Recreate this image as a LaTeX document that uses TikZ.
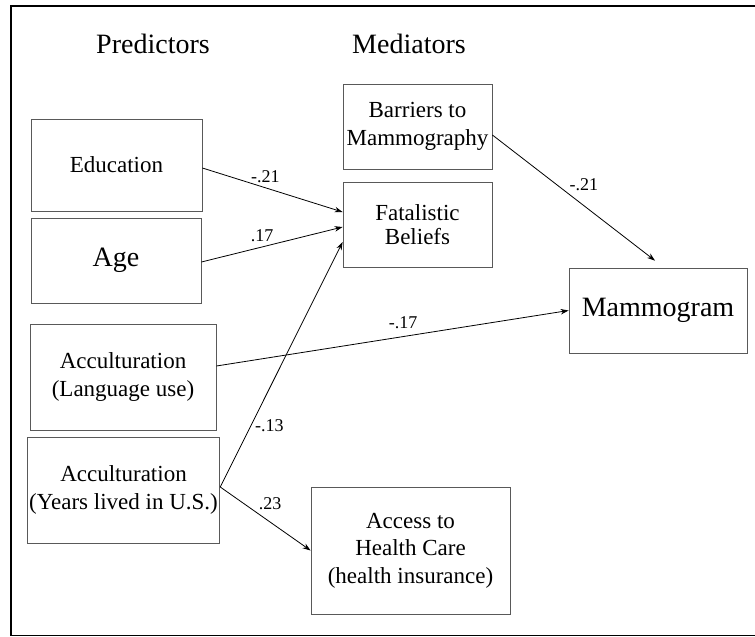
\documentclass[tikz,border=0pt]{standalone}
\usepackage{fontspec}
\setmainfont{Liberation Serif}
\usetikzlibrary{arrows.meta,calc}

\tikzset{
  varbox/.style={draw=black!65, line width=0.8pt, align=center, inner sep=2pt,
    font=\fontsize{23}{27.6}\selectfont},
  path/.style={line width=0.8pt, -{Stealth[length=8pt,width=5.5pt]}},
  coef/.style={font=\fontsize{18}{20}\selectfont, inner sep=2pt}
}

\begin{document}
\begin{tikzpicture}[x=1pt, y=-1pt]

  \useasboundingbox (0,0) rectangle (755,637);
  % outer frame (right side runs off the page)
  \draw[line width=1.6pt] (765,6) -- (11,6) -- (11,635.5) -- (765,635.5);

  % column headings
  \node[anchor=base, font=\fontsize{28}{32}\selectfont] (hpred) at (153,53) {Predictors};
  \node[anchor=base, font=\fontsize{28}{32}\selectfont] (hmed) at (409,53) {Mediators};

  % Predictors
  \node[varbox, minimum width=171pt, minimum height=92pt] (edu) at (116.5,165) {Education};
  \node[varbox, minimum width=170pt, minimum height=85pt, font=\fontsize{28}{32}\selectfont] (age) at (116,260.5) {Age};
  \node[varbox, minimum width=186pt, minimum height=106pt] (lang) at (123,377) {Acculturation\\(Language use)};
  \node[varbox, minimum width=187pt, minimum height=106pt] (yrs) at (123.5,490) {Acculturation\\(Years lived in U.S.)};

  % Mediators
  \node[varbox, minimum width=149pt, minimum height=85pt] (bar) at (417.5,126.5) {Barriers to\\Mammography};
  \node[varbox, minimum width=149pt, minimum height=85pt, font=\fontsize{23}{24}\selectfont] (fat) at (417.5,224.5) {Fatalistic\\Beliefs};
  \node[varbox, minimum width=199pt, minimum height=127pt] (acc) at (410.5,550.5) {Access to\\Health Care\\(health insurance)};

  % Outcome
  \node[varbox, minimum width=178pt, minimum height=85pt, font=\fontsize{28}{32}\selectfont] (mam) at (658,310.5) {Mammogram};

  % paths
  \coordinate (split) at ($(yrs.east)+(0,-3)$);
  \coordinate (mamtop) at ($(mam.north)+(-3,-7)$);
  \draw[path] ($(edu.east)+(0,3)$) -- node[coef, pos=0.45, above=3pt] (c1) {-.21} ($(fat.west)+(0,-12.5)$);
  \draw[path] ($(age.east)+(0,1.5)$) -- node[coef, pos=0.43, above=3pt] (c2) {.17} ($(fat.west)+(0,2.5)$);
  \draw[path] ($(lang.east)+(0,-11)$) -- node[coef, pos=0.53, above=5pt] (c3) {-.17} (mam.west);
  \draw[path] (split) -- node[coef, pos=0.25, right=2pt] (c4) {-.13} ($(fat.west)+(0,17.5)$);
  \draw[path] (split) -- node[coef, pos=0.4, above right=0pt] (c5) {.23} (acc.west);
  \draw[path] ($(bar.east)+(0,8.5)$) -- node[coef, pos=0.46, above right=0pt] (c6) {-.21} (mamtop);

\end{tikzpicture}
\end{document}
